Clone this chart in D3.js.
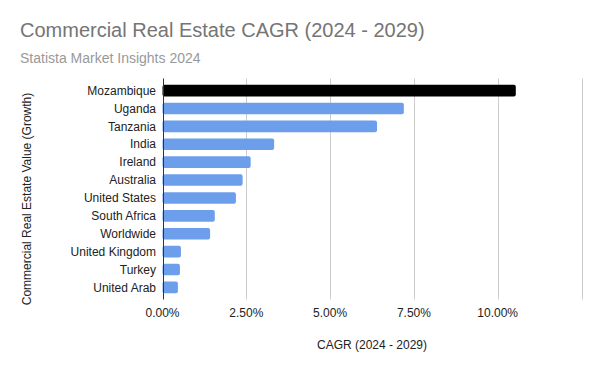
<!DOCTYPE html>
<html>
<head>
<meta charset="utf-8">
<script src="https://cdn.jsdelivr.net/npm/d3@7"></script>
<style>
  body { margin: 0; background: #fff; }
  text { font-family: Arial, "Liberation Sans", sans-serif; }
</style>
</head>
<body>
<div id="chart"></div>
<script>
var countries = ['Mozambique', 'Uganda', 'Tanzania', 'India', 'Ireland', 'Australia',
    'United States', 'South Africa', 'Worldwide', 'United Kingdom', 'Turkey', 'United Arab'];
var cagr = [10.54, 7.20, 6.40, 3.33, 2.63, 2.39, 2.19, 1.56, 1.42, 0.55, 0.52, 0.46];
var xTicks = [0, 2.5, 5, 7.5, 10, 12.5];
var highlight = 'Mozambique';

var width = 600, height = 371;
var plot = { left: 162.5, right: 581.5, top: 78.5, bottom: 299.5 };

var svg = d3.select('#chart').append('svg')
    .attr('width', width)
    .attr('height', height);

var x = d3.scaleLinear().domain([0, 12.5]).range([plot.left, plot.right]);
var y = d3.scaleBand().domain(countries).range([plot.top, plot.bottom]).padding(0.35);

// title + subtitle
svg.append('text')
    .attr('x', 20).attr('y', 37)
    .style('font-size', '20px')
    .style('fill', '#757575')
    .text('Commercial Real Estate CAGR (2024 - 2029)');
svg.append('text')
    .attr('x', 20).attr('y', 63)
    .style('font-size', '14px')
    .style('fill', '#999999')
    .text('Statista Market Insights 2024');

// gridlines
svg.append('g').selectAll('line')
    .data(xTicks.slice(1))
    .enter().append('line')
    .attr('x1', function(d) { return Math.round(x(d)) + 0.5; })
    .attr('x2', function(d) { return Math.round(x(d)) + 0.5; })
    .attr('y1', plot.top)
    .attr('y2', plot.bottom)
    .style('stroke', '#cccccc')
    .style('stroke-width', 1);

// bars
var data = countries.map(function(c, i) { return { name: c, value: cagr[i] }; });
svg.append('g').selectAll('rect')
    .data(data)
    .enter().append('rect')
    .attr('x', x(0))
    .attr('y', function(d) { return y(d.name); })
    .attr('width', function(d) { return x(d.value) - x(0); })
    .attr('height', y.bandwidth())
    .attr('rx', 2)
    .style('fill', function(d) { return d.name === highlight ? '#000000' : '#6d9eeb'; });

// zero axis line
svg.append('line')
    .attr('x1', Math.round(x(0)) + 0.5).attr('x2', Math.round(x(0)) + 0.5)
    .attr('y1', plot.top).attr('y2', plot.bottom)
    .style('stroke', '#333333')
    .style('stroke-width', 1);

// category labels
svg.append('g').selectAll('text')
    .data(countries)
    .enter().append('text')
    .attr('x', 156)
    .attr('y', function(d) { return y(d) + y.bandwidth() / 2; })
    .attr('dy', '0.35em')
    .attr('text-anchor', 'end')
    .style('font-size', '12px')
    .style('fill', '#222222')
    .text(function(d) { return d; });

// x tick labels
svg.append('g').selectAll('text')
    .data(xTicks.slice(0, 5))
    .enter().append('text')
    .attr('x', function(d) { return x(d); })
    .attr('y', 317)
    .attr('text-anchor', 'middle')
    .style('font-size', '12px')
    .style('fill', '#222222')
    .text(function(d) { return d.toFixed(2) + '%'; });

// axis titles
svg.append('text')
    .attr('x', (plot.left + plot.right) / 2)
    .attr('y', 349)
    .attr('text-anchor', 'middle')
    .style('font-size', '12px')
    .style('fill', '#222222')
    .text('CAGR (2024 - 2029)');
svg.append('text')
    .attr('transform', 'translate(31,199) rotate(-90)')
    .attr('text-anchor', 'middle')
    .style('font-size', '12px')
    .style('fill', '#222222')
    .text('Commercial Real Estate Value (Growth)');
</script>
</body>
</html>
